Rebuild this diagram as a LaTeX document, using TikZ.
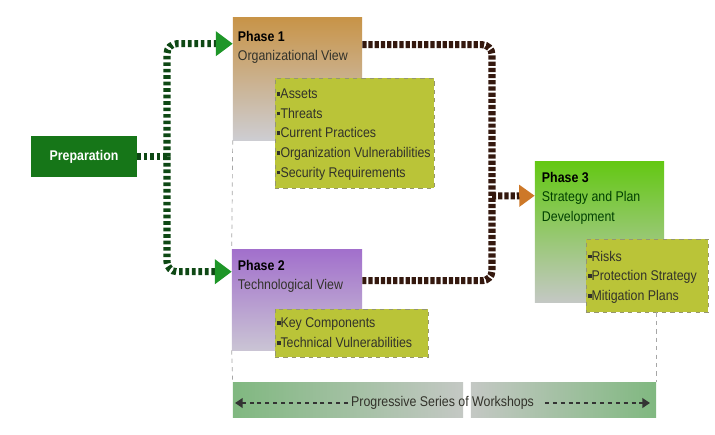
\documentclass[tikz,border=0pt]{standalone}
\usepackage{fontspec}
\setmainfont{Liberation Sans}[FakeStretch=0.88]
\usepackage{xcolor}
\usetikzlibrary{arrows.meta,calc,positioning}

\definecolor{prepgreen}{RGB}{22,118,24}
\definecolor{linegreen}{RGB}{14,72,20}
\definecolor{arrowgreen}{RGB}{30,150,40}
\definecolor{linebrown}{RGB}{52,24,14}
\definecolor{arroworange}{RGB}{205,120,40}
\definecolor{ponetop}{RGB}{200,148,72}
\definecolor{ponebot}{RGB}{205,205,210}
\definecolor{ptwotop}{RGB}{162,112,204}
\definecolor{ptwobot}{RGB}{202,196,212}
\definecolor{pthreetop}{RGB}{100,200,20}
\definecolor{pthreebot}{RGB}{196,200,196}
\definecolor{listgreen}{RGB}{186,196,56}
\definecolor{listedge}{RGB}{150,150,110}
\definecolor{bargreen}{RGB}{128,184,128}
\definecolor{bargrey}{RGB}{196,200,196}
\definecolor{textgrey}{RGB}{50,50,42}

\newcommand{\bul}{\raisebox{2pt}{\rule{2.6pt}{2.6pt}}}

\tikzset{
  phasebox/.style={inner sep=0pt},
  listbox/.style={fill=listgreen, draw=listedge, dashed, line width=0.6pt, inner sep=0pt},
  titletext/.style={anchor=north west, inner sep=0pt, align=left, text=textgrey,
    font=\fontsize{10}{14}\selectfont},
  itemtext/.style={anchor=north west, inner sep=0pt, align=left, text=textgrey,
    font=\fontsize{10}{14}\selectfont},
  greenline/.style={draw=linegreen, line width=5pt, dash pattern=on 2.6pt off 2pt},
  brownline/.style={draw=linebrown, line width=5pt, dash pattern=on 3pt off 1.4pt},
  guide/.style={draw=gray!70, dashed, line width=0.5pt},
  barpart/.style={inner sep=0pt, minimum height=0.875cm},
  wsline/.style={draw=black!80, line width=1.2pt, dash pattern=on 2.8pt off 2.8pt}
}

\begin{document}
\begin{tikzpicture}[x=0.025cm, y=-0.025cm]
    % canvas
    \fill[white] (0,0) rectangle (715,434);
    \useasboundingbox (0,0) rectangle (715,434);

    % Preparation
    \node[fill=prepgreen, text=white, font=\fontsize{10}{12}\selectfont\bfseries,
      minimum width=2.65cm, minimum height=1.0cm, inner sep=0pt] (prep) at (84,156.5) {Preparation};

    % Phase boxes
    \node[phasebox, top color=ponetop, bottom color=ponebot,
      minimum width=3.225cm, minimum height=3.05cm] (p1) at (297.5,79) {};
    \node[listbox, minimum width=3.975cm, minimum height=2.75cm] (p1l) at (354.5,133) {};
    \node[phasebox, top color=ptwotop, bottom color=ptwobot,
      minimum width=3.25cm, minimum height=2.5cm] (p2) at (297,300) {};
    \node[listbox, minimum width=3.825cm, minimum height=1.2cm] (p2l) at (351.5,333) {};
    \node[phasebox, top color=pthreetop, bottom color=pthreebot,
      minimum width=3.225cm, minimum height=3.5cm] (p3) at (599.5,232) {};
    \node[listbox, minimum width=3.05cm, minimum height=1.825cm] (p3l) at (647,275.5) {};

    % Titles
    \node[titletext] (p1t) at ($(p1.north west)+(5,13)$)
      {\textcolor{black}{\textbf{Phase 1}}\\Organizational View};
    \node[titletext] (p2t) at ($(p2.north west)+(6,10)$)
      {\textcolor{black}{\textbf{Phase 2}}\\Technological View};
    \node[titletext, text=black!75!green] (p3t) at ($(p3.north west)+(7,10)$)
      {\textcolor{black}{\textbf{Phase 3}}\\Strategy and Plan\\Development};

    % Items
    \node[itemtext] (p1i) at ($(p1l.north west)+(2,11)$)
      {\bul Assets\\\bul Threats\\\bul Current Practices\\\bul Organization Vulnerabilities\\\bul Security Requirements};
    \node[itemtext] (p2i) at ($(p2l.north west)+(2,9)$)
      {\bul Key Components\\\bul Technical Vulnerabilities};
    \node[itemtext] (p3i) at ($(p3l.north west)+(2,12)$)
      {\bul Risks\\\bul Protection Strategy\\\bul Mitigation Plans};

    % Green connectors
    \coordinate (gj) at (167,156.5);
    \coordinate (p1in) at ($(p1.north west)+(0,26)$);
    \coordinate (p2in) at ($(p2.north west)+(0,22)$);
    \draw[greenline] (prep.east) -- (gj);
    \draw[greenline, rounded corners=7pt,
      -{Triangle[length=12pt, width=17pt, color=arrowgreen, fill=arrowgreen]}] (gj) |- (p1in);
    \draw[greenline, rounded corners=7pt,
      -{Triangle[length=12pt, width=17pt, color=arrowgreen, fill=arrowgreen]}] (gj) |- (p2in);

    % Brown connectors
    \coordinate (p1out) at ($(p1.north east)+(0,27)$);
    \coordinate (p2out) at ($(p2.north east)+(0,31)$);
    \coordinate (bj) at (492,196);
    \coordinate (p3in) at ($(p3.north west)+(0,34)$);
    \draw[brownline, rounded corners=7pt] (p1out) -| (bj) |- (p2out);
    \draw[brownline,
      -{Triangle[length=11pt, width=15pt, color=arroworange, fill=arroworange]}] (bj) -- (p3in);

    % Workshops bar
    \node[barpart, left color=bargreen, right color=bargrey, minimum width=5.75cm] (wl) at (348,399.5) {};
    \node[barpart, left color=bargrey, right color=bargreen, minimum width=4.625cm] (wr) at (563.5,399.5) {};
    \node[text=textgrey, font=\fontsize{10}{12}\selectfont, inner sep=2pt] (ws) at (442.5,403) {Progressive Series of Workshops};
    \coordinate (wsa) at (235,403);
    \coordinate (wsb) at (650,403);
    \draw[wsline, -{Triangle[length=5.5pt, width=7pt]}] (ws.west) -- (wsa);
    \draw[wsline, -{Triangle[length=5.5pt, width=7pt]}] ($(ws.east)+(8,0)$) -- (wsb);

    % Guides
    \draw[guide] (p1.south west) -- (p2.north west);
    \draw[guide] (p2.south west) -- (wl.north west);
    \draw[guide] (p3l.south -| wr.north east) -- (wr.north east);
\end{tikzpicture}
\end{document}
